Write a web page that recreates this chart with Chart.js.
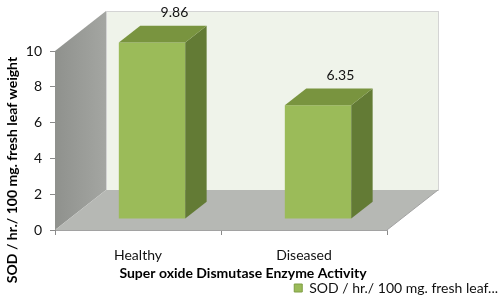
<!DOCTYPE html>
<html>
<head>
<meta charset="utf-8">
<script src="https://cdn.jsdelivr.net/npm/chart.js@4.4.1/dist/chart.umd.min.js"></script>
<style>
  html, body { margin: 0; padding: 0; background: #fff; }
</style>
</head>
<body>
<canvas id="sodChart" width="501" height="305"></canvas>
<script>
const categories = ['Healthy', 'Diseased'];
const sodValues = [9.86, 6.35];
const yTicks = [0, 2, 4, 6, 8, 10];
const seriesLabel = 'SOD / hr./ 100 mg. fresh leaf...';
const yTitle = 'SOD / hr./ 100 mg. fresh leaf weight';
const xTitle = 'Super oxide Dismutase Enzyme Activity';

// 3D look: full depth of the box and where the bars sit in it
const depth = { dx: 51, dy: -40 };
const barFront = 0.275;
const barDepth = 0.42;
const FONT = 'Lato, "Open Sans", sans-serif';

const threeD = {
    id: 'threeD',
    beforeDatasetsDraw(chart) {
        const { ctx, chartArea: a } = chart;
        const { dx, dy } = depth;
        ctx.save();
        // back wall
        ctx.fillStyle = '#eff3ea';
        ctx.strokeStyle = '#d4d4d4';
        ctx.lineWidth = 1;
        ctx.fillRect(a.left + dx, a.top + dy, a.right - a.left, a.bottom - a.top);
        ctx.strokeRect(a.left + dx + 0.5, a.top + dy + 0.5, a.right - a.left, a.bottom - a.top);
        // left wall
        const g = ctx.createLinearGradient(a.left, 0, a.left + dx, 0);
        g.addColorStop(0, '#8f918d');
        g.addColorStop(1, '#a4a6a2');
        ctx.fillStyle = g;
        ctx.beginPath();
        ctx.moveTo(a.left, a.bottom);
        ctx.lineTo(a.left, a.top);
        ctx.lineTo(a.left + dx, a.top + dy);
        ctx.lineTo(a.left + dx, a.bottom + dy);
        ctx.closePath();
        ctx.fill();
        // floor
        ctx.fillStyle = '#b6b8b4';
        ctx.strokeStyle = '#a2a2a2';
        ctx.beginPath();
        ctx.moveTo(a.left, a.bottom);
        ctx.lineTo(a.right, a.bottom);
        ctx.lineTo(a.right + dx, a.bottom + dy);
        ctx.lineTo(a.left + dx, a.bottom + dy);
        ctx.closePath();
        ctx.fill();
        ctx.beginPath();
        ctx.moveTo(a.right, a.bottom);
        ctx.lineTo(a.right + dx, a.bottom + dy);
        ctx.stroke();
        ctx.restore();

        // the library draws the front faces, pushed back into the box
        ctx.save();
        ctx.translate(dx * barFront, dy * barFront);
    },
    afterDatasetsDraw(chart) {
        const { ctx } = chart;
        const bx = depth.dx * barDepth, by = depth.dy * barDepth;
        chart.getDatasetMeta(0).data.forEach(bar => {
            const { x, y, base, width } = bar.getProps(['x', 'y', 'base', 'width'], true);
            const l = x - width / 2, r = x + width / 2;
            ctx.fillStyle = '#637b35';
            ctx.beginPath();
            ctx.moveTo(r, y);
            ctx.lineTo(r + bx, y + by);
            ctx.lineTo(r + bx, base + by);
            ctx.lineTo(r, base);
            ctx.closePath();
            ctx.fill();
            ctx.fillStyle = '#79943f';
            ctx.beginPath();
            ctx.moveTo(l, y);
            ctx.lineTo(r, y);
            ctx.lineTo(r + bx, y + by);
            ctx.lineTo(l + bx, y + by);
            ctx.closePath();
            ctx.fill();
        });
        ctx.restore();

        // value labels above the bar tops
        const off = depth.dx * (barFront + barDepth) + 1;
        const offY = depth.dy * (barFront + barDepth) - 13;
        ctx.save();
        ctx.font = '14px ' + FONT;
        ctx.fillStyle = '#111';
        ctx.textAlign = 'center';
        ctx.textBaseline = 'middle';
        chart.getDatasetMeta(0).data.forEach((bar, i) => {
            ctx.fillText(sodValues[i].toFixed(2), bar.x + off, bar.y + offY);
        });
        ctx.restore();
    },
    afterDraw(chart) {
        const { ctx } = chart;
        ctx.save();
        ctx.font = 'bold 14px ' + FONT;
        ctx.fillStyle = '#000';
        ctx.textAlign = 'center';
        ctx.textBaseline = 'middle';
        ctx.fillText(xTitle, 243, 273);
        ctx.translate(12, 170);
        ctx.rotate(-Math.PI / 2);
        ctx.fillText(yTitle, 0, 0);
        ctx.restore();
    }
};

new Chart(document.getElementById('sodChart'), {
    type: 'bar',
    data: {
        labels: categories,
        datasets: [{
            label: seriesLabel,
            data: sodValues,
            backgroundColor: '#9bbb59',
            borderWidth: 0,
            barPercentage: 0.4,
            categoryPercentage: 1.0,
            clip: false
        }]
    },
    options: {
        responsive: false,
        animation: false,
        devicePixelRatio: 1,
        layout: { padding: { top: 51, right: 0, left: 0, bottom: 0 } },
        plugins: {
            tooltip: { enabled: false },
            legend: {
                position: 'bottom',
                align: 'end',
                labels: {
                    boxWidth: 8,
                    boxHeight: 8,
                    padding: 3,
                    color: '#111',
                    font: { family: FONT, size: 14 },
                    generateLabels(chart) {
                        return Chart.defaults.plugins.legend.labels.generateLabels(chart).map(item => {
                            item.lineWidth = 1;
                            item.strokeStyle = '#7f9e45';
                            return item;
                        });
                    }
                }
            }
        },
        scales: {
            x: {
                grid: { offset: true, drawOnChartArea: false, tickLength: 5, color: '#8a8a8a' },
                border: { color: '#a2a2a2' },
                ticks: { padding: 12, color: '#111', font: { family: FONT, size: 14 } },
                afterFit(s) { s.height = 305 - 230 - s.chart.legend.height; }
            },
            y: {
                min: 0,
                max: 10,
                afterBuildTicks(s) { s.ticks = yTicks.map(v => ({ value: v })); },
                grid: { drawOnChartArea: false, tickLength: 5, color: '#8a8a8a' },
                border: { color: '#8a8a8a' },
                ticks: { padding: 8, color: '#111', font: { family: FONT, size: 14 } },
                afterFit(s) { s.width = 55; }
            },
            // empty right-hand space that holds the depth of the box
            space: {
                position: 'right',
                grid: { display: false },
                border: { display: false },
                ticks: { display: false },
                afterFit(s) { s.width = 114; }
            }
        }
    },
    plugins: [threeD]
});
</script>
</body>
</html>
